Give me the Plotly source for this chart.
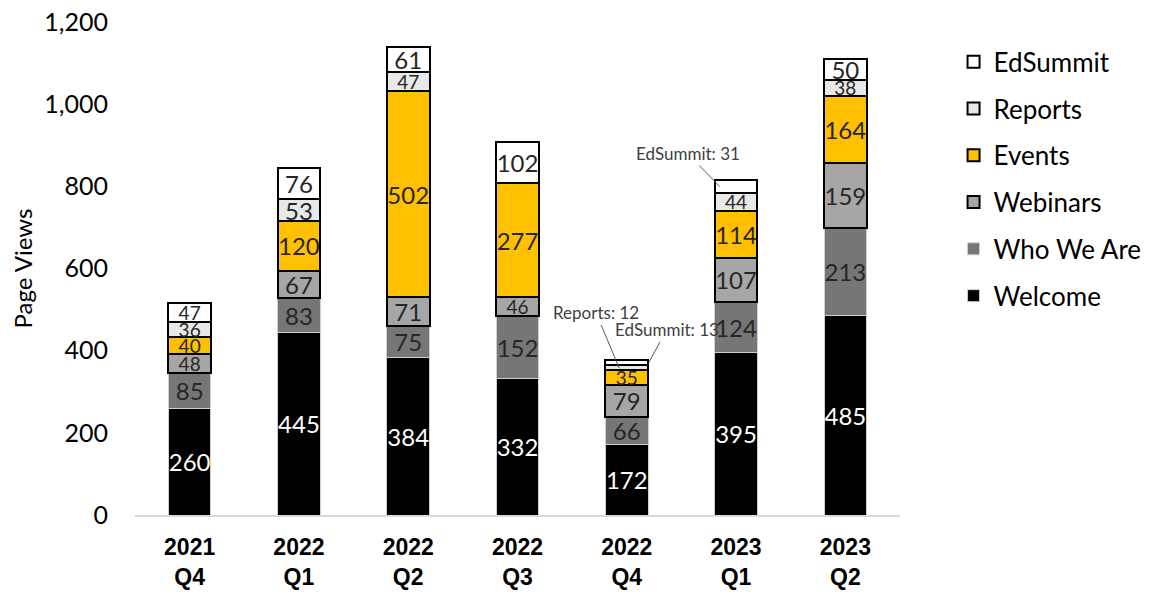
import plotly.graph_objects as go

# Quarterly page views by site section
quarters = ["2021<br>Q4", "2022<br>Q1", "2022<br>Q2", "2022<br>Q3",
            "2022<br>Q4", "2023<br>Q1", "2023<br>Q2"]

welcome = [260, 445, 384, 332, 172, 395, 485]
who_we_are = [85, 83, 75, 152, 66, 124, 213]
webinars = [48, 67, 71, 46, 79, 107, 159]
events = [40, 120, 502, 277, 35, 114, 164]
reports = [36, 53, 47, None, 12, 44, 38]
edsummit = [47, 76, 61, 102, 13, 31, 50]

y_ticks = [0, 200, 400, 600, 800, 1000, 1200]

series = [
    ("Welcome", welcome, "#000000", "#cfcfcf", 1, "#ffffff"),
    ("Who We Are", who_we_are, "#767676", "#cfcfcf", 1, "#262626"),
    ("Webinars", webinars, "#a6a6a6", "#000000", 2, "#262626"),
    ("Events", events, "#ffc000", "#000000", 2, "#262626"),
    ("Reports", reports, "#e8e8e8", "#000000", 2, "#262626"),
    ("EdSummit", edsummit, "#ffffff", "#000000", 2, "#262626"),
]

# Segments too thin for an inside label get a callout instead
callouts = {("Reports", 4): (-23, -55), ("EdSummit", 4): (18, -33),
            ("EdSummit", 5): (-32, -33)}

x = list(range(len(quarters)))
fig = go.Figure()
for k, (name, vals, fill, edge, edge_w, txt_color) in enumerate(series):
    labels, sizes = [], []
    for i, v in enumerate(vals):
        if v is None or (name, i) in callouts:
            labels.append("")
        else:
            labels.append(str(v))
        sizes.append(24 if (v or 0) >= 50 else 19)
    fig.add_trace(go.Bar(
        name=name, x=x, y=[v or 0 for v in vals], legendgroup=name,
        legendrank=len(series) - k,
        marker=dict(color=fill, line=dict(color=edge, width=edge_w)),
        text=labels, textposition="inside", textangle=0,
        insidetextanchor="middle", constraintext="none",
        textfont=dict(family="Lato", size=sizes, color=txt_color),
        hoverinfo="skip",
    ))

# Callout annotations for the thin segments
names = [s[0] for s in series]
vals_by_name = {s[0]: s[1] for s in series}
for (name, i), (ax, ay) in callouts.items():
    below = sum((vals_by_name[n][i] or 0) for n in names[:names.index(name)])
    v = vals_by_name[name][i]
    dx = -0.15 if ax < 0 and name == "EdSummit" else (0.2 if ax > 0 else -0.07)
    fig.add_annotation(
        x=i + dx, y=below + v / 2, text=f"{name}: {v}",
        showarrow=True, arrowhead=0, arrowwidth=1, arrowcolor="#595959",
        ax=ax, ay=ay, font=dict(family="Lato", size=17, color="#404040"),
    )

fig.update_layout(
    width=1169, height=594,
    margin=dict(l=135, r=269, t=22, b=79),
    plot_bgcolor="#ffffff", paper_bgcolor="#ffffff",
    barmode="stack", bargap=0.61,
    showlegend=True,
    legend=dict(
        x=1.07, xanchor="left", y=0.967, yanchor="top",
        traceorder="grouped", tracegroupgap=10,
        font=dict(family="Lato", size=26, color="#000000"),
        bgcolor="rgba(0,0,0,0)",
    ),
)
fig.update_xaxes(
    range=[-0.5, 6.5], tickmode="array", tickvals=x, ticktext=quarters,
    showgrid=False, zeroline=False, showline=True, linecolor="#d9d9d9",
    linewidth=1.5, ticks="", ticklabelstandoff=11, automargin=False,
    tickfont=dict(family="Liberation Sans", size=23, color="#000000",
                  weight="bold"),
)
fig.update_yaxes(
    range=[0, 1200], tickmode="array", tickvals=y_ticks,
    tickformat=",d", separatethousands=True,
    showgrid=False, zeroline=False, showline=False, ticks="",
    ticklabelstandoff=26, automargin=False,
    tickfont=dict(family="Lato", size=25, color="#000000"),
    title=dict(text="Page Views", standoff=4,
               font=dict(family="Lato", size=24, color="#000000")),
)

fig.write_html("out.html")
